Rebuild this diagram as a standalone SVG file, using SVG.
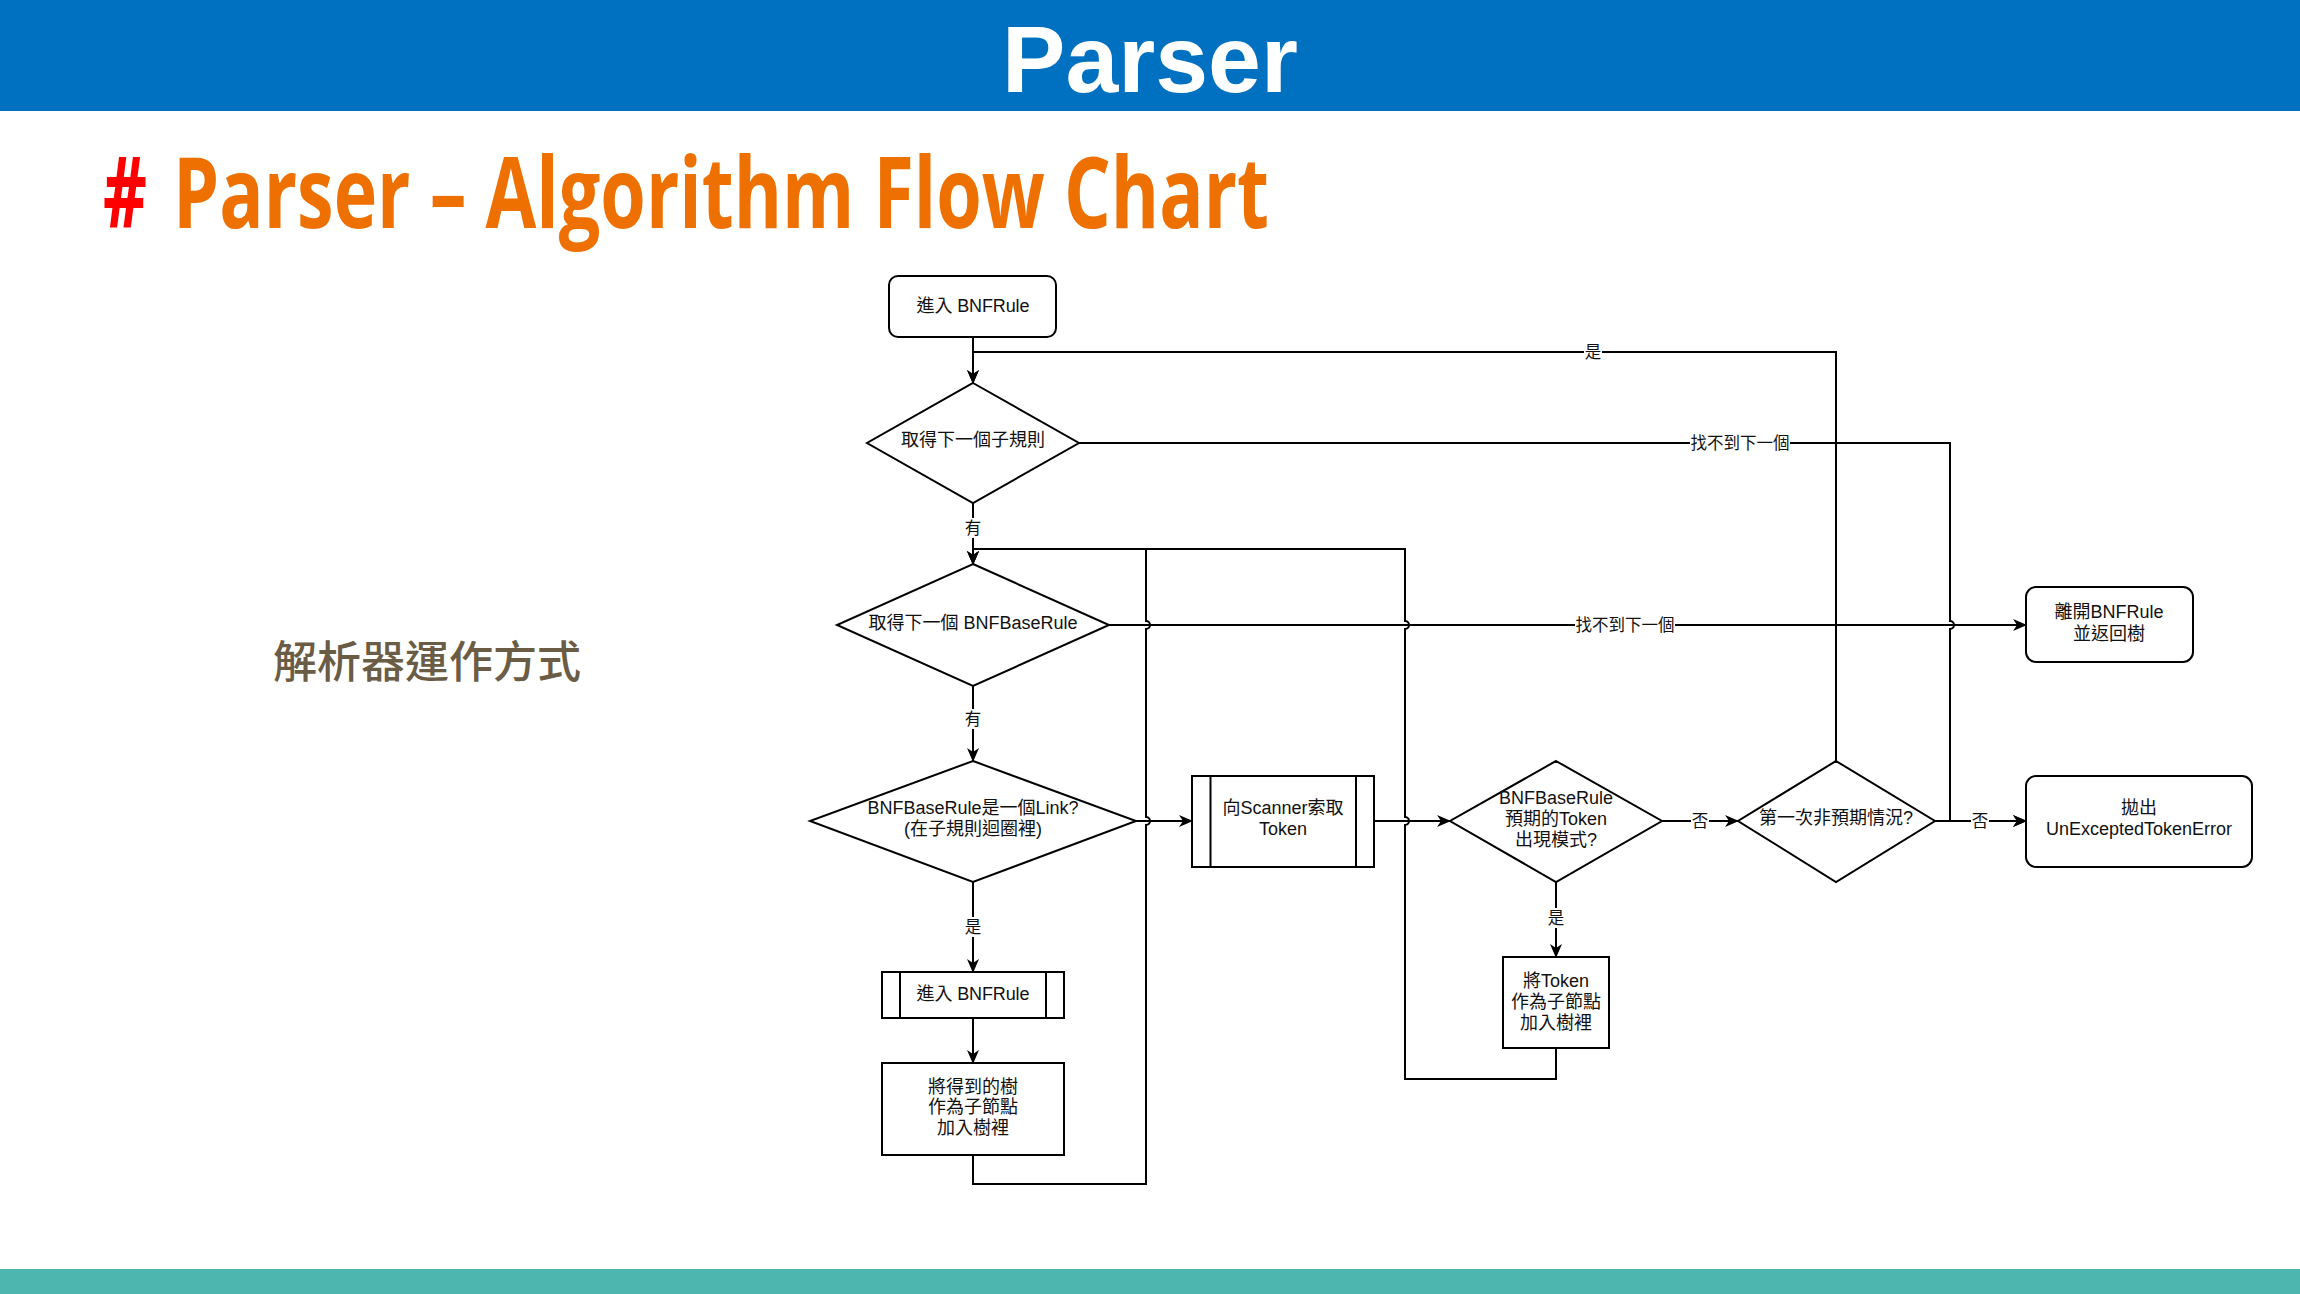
<svg xmlns="http://www.w3.org/2000/svg" width="2300" height="1294" viewBox="0 0 2300 1294">
<style>
.node{fill:#fff;stroke:#000;stroke-width:2}
.edge{fill:none;stroke:#000;stroke-width:2}
.t{font-family:"Liberation Sans","Noto Sans CJK TC",sans-serif;font-size:18px;fill:#111;text-anchor:middle;dominant-baseline:central}
.lbl{font-family:"Liberation Sans","Noto Sans CJK TC",sans-serif;font-size:16.5px;fill:#111;text-anchor:middle;dominant-baseline:central}
.lbg{fill:#fff}
</style>
<defs>
<marker id="arr" markerUnits="userSpaceOnUse" viewBox="0 0 14 12" refX="13" refY="6" markerWidth="14" markerHeight="12" orient="auto">
<path d="M0,0 L14,6 L0,12 L4,6 Z" fill="#000"/>
</marker>
</defs>
<rect x="0" y="0" width="2300" height="1294" fill="#fff"/>
<g id="header">
<rect x="0" y="0" width="2300" height="111" fill="#0070C0"/>
<text x="1150" y="92" font-family="Liberation Sans, Arial, sans-serif" font-weight="bold" font-size="95" fill="#fff" text-anchor="middle">Parser</text>
</g>
<g id="subtitle">
<text x="103" y="228" font-family="Open Sans, sans-serif" font-weight="700" font-size="99" fill="#FF0000" textLength="44" lengthAdjust="spacingAndGlyphs">#</text>
<text x="173" y="228" font-family="Open Sans, sans-serif" font-weight="700" font-size="99" fill="#EE7000" textLength="1096" lengthAdjust="spacingAndGlyphs">Parser – Algorithm Flow Chart</text>
</g>
<g id="side-text">
<text x="427" y="659" font-family="Noto Sans CJK TC, sans-serif" font-weight="500" font-size="44" fill="#6A5C45" text-anchor="middle" dominant-baseline="central">解析器運作方式</text>
</g>
<rect id="footer" x="0" y="1269" width="2300" height="25" fill="#4DB6AE"/>

<g id="connectors">
<path class="edge" d="M973,337 V383" marker-end="url(#arr)"/>
<path class="edge" d="M973,503 V564" marker-end="url(#arr)"/>
<path class="edge" d="M1079,443 H1950 V621 A4,4 0 0 1 1950,629 V821 H2026" marker-end="url(#arr)"/>
<path class="edge" d="M1109,625 H2026" marker-end="url(#arr)"/>
<path class="edge" d="M973,686 V761" marker-end="url(#arr)"/>
<path class="edge" d="M1136,821 H1192" marker-end="url(#arr)"/>
<path class="edge" d="M973,882 V972" marker-end="url(#arr)"/>
<path class="edge" d="M973,1018 V1063" marker-end="url(#arr)"/>
<path class="edge" d="M973,1155 V1184 H1146 V825 A4,4 0 0 0 1146,817 V629 A4,4 0 0 0 1146,621 V549 H973 V564" marker-end="url(#arr)"/>
<path class="edge" d="M1374,821 H1450" marker-end="url(#arr)"/>
<path class="edge" d="M1662,821 H1738" marker-end="url(#arr)"/>
<path class="edge" d="M1935,821 H2026" marker-end="url(#arr)"/>
<path class="edge" d="M1556,882 V957" marker-end="url(#arr)"/>
<path class="edge" d="M1556,1048 V1079 H1405 V825 A4,4 0 0 0 1405,817 V629 A4,4 0 0 0 1405,621 V549 H973 V564" marker-end="url(#arr)"/>
<path class="edge" d="M1836,761 V352 H973 V383" marker-end="url(#arr)"/>
<g id="edge-labels">
<rect class="lbg" x="964" y="518" width="18" height="20"/><text class="lbl" x="973" y="528">有</text>
<rect class="lbg" x="964" y="709" width="18" height="20"/><text class="lbl" x="973" y="719">有</text>
<rect class="lbg" x="964" y="917" width="18" height="20"/><text class="lbl" x="973" y="927">是</text>
<rect class="lbg" x="1584" y="342" width="18" height="20"/><text class="lbl" x="1593" y="352">是</text>
<rect class="lbg" x="1690" y="433" width="100" height="20"/><text class="lbl" x="1740" y="443">找不到下一個</text>
<rect class="lbg" x="1575" y="615" width="100" height="20"/><text class="lbl" x="1625" y="625">找不到下一個</text>
<rect class="lbg" x="1691" y="811" width="18" height="20"/><text class="lbl" x="1700" y="821">否</text>
<rect class="lbg" x="1971" y="811" width="18" height="20"/><text class="lbl" x="1980" y="821">否</text>
<rect class="lbg" x="1547" y="908" width="18" height="20"/><text class="lbl" x="1556" y="918">是</text>
</g>
</g>

<g id="n-start">
<rect class="node" x="889" y="276" width="167" height="61" rx="9"/>
<text class="t" x="973" y="306" textLength="113" lengthAdjust="spacing">進入 BNFRule</text>
</g>
<g id="n-next-subrule">
<polygon class="node" points="973,383 1079,443 973,503 867,443"/>
<text class="t" x="973" y="440">取得下一個子規則</text>
</g>
<g id="n-next-baserule">
<polygon class="node" points="973,564 1109,625 973,686 837,625"/>
<text class="t" x="973" y="623">取得下一個 BNFBaseRule</text>
</g>
<g id="n-is-link">
<polygon class="node" points="973,761 1136,821 973,882 810,821"/>
<text class="t" x="973" y="808">BNFBaseRule是一個Link?</text>
<text class="t" x="973" y="829">(在子規則迴圈裡)</text>
</g>
<g id="n-enter-rule">
<rect class="node" x="882" y="972" width="182" height="46"/>
<line class="node" x1="900" y1="972" x2="900" y2="1018"/>
<line class="node" x1="1046" y1="972" x2="1046" y2="1018"/>
<text class="t" x="973" y="994" textLength="113" lengthAdjust="spacing">進入 BNFRule</text>
</g>
<g id="n-add-tree">
<rect class="node" x="882" y="1063" width="182" height="92"/>
<text class="t" x="973" y="1087">將得到的樹</text>
<text class="t" x="973" y="1107">作為子節點</text>
<text class="t" x="973" y="1128">加入樹裡</text>
</g>
<g id="n-scanner">
<rect class="node" x="1192" y="776" width="182" height="91"/>
<line class="node" x1="1210.5" y1="776" x2="1210.5" y2="867"/>
<line class="node" x1="1356" y1="776" x2="1356" y2="867"/>
<text class="t" x="1283" y="808">向Scanner索取</text>
<text class="t" x="1283" y="829">Token</text>
</g>
<g id="n-expected">
<polygon class="node" points="1556,761 1662,821 1556,882 1450,821"/>
<text class="t" x="1556" y="798">BNFBaseRule</text>
<text class="t" x="1556" y="819">預期的Token</text>
<text class="t" x="1556" y="840">出現模式?</text>
</g>
<g id="n-add-token">
<rect class="node" x="1503" y="957" width="106" height="91"/>
<text class="t" x="1556" y="981">將Token</text>
<text class="t" x="1556" y="1002">作為子節點</text>
<text class="t" x="1556" y="1023">加入樹裡</text>
</g>
<g id="n-first-unexpected">
<polygon class="node" points="1836,761 1935,821 1836,882 1738,821"/>
<text class="t" x="1836" y="818">第一次非預期情況?</text>
</g>
<g id="n-leave">
<rect class="node" x="2026" y="587" width="167" height="75" rx="10"/>
<text class="t" x="2109" y="612">離開BNFRule</text>
<text class="t" x="2109" y="634">並返回樹</text>
</g>
<g id="n-throw">
<rect class="node" x="2026" y="776" width="226" height="91" rx="10"/>
<text class="t" x="2139" y="808">拋出</text>
<text class="t" x="2139" y="829">UnExceptedTokenError</text>
</g>
</svg>
